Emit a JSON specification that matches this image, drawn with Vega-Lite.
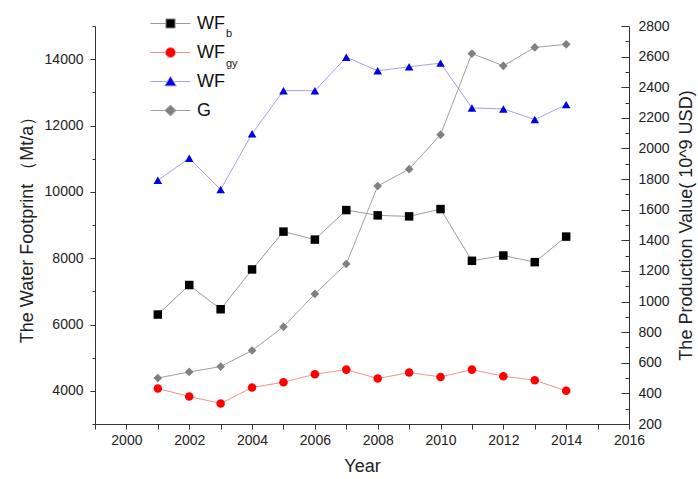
{
  "$schema": "https://vega.github.io/schema/vega-lite/v6.json",
  "width": 534,
  "height": 398,
  "autosize": {"type": "none"},
  "padding": {"left": 95, "top": 26, "right": 69, "bottom": 55},
  "background": "white",
  "datasets": {
    "left": [
      {"year": 2001, "series": "WFb", "value": 6300},
      {"year": 2002, "series": "WFb", "value": 7190},
      {"year": 2003, "series": "WFb", "value": 6460},
      {"year": 2004, "series": "WFb", "value": 7660},
      {"year": 2005, "series": "WFb", "value": 8800},
      {"year": 2006, "series": "WFb", "value": 8560},
      {"year": 2007, "series": "WFb", "value": 9450},
      {"year": 2008, "series": "WFb", "value": 9290},
      {"year": 2009, "series": "WFb", "value": 9260},
      {"year": 2010, "series": "WFb", "value": 9480},
      {"year": 2011, "series": "WFb", "value": 7920},
      {"year": 2012, "series": "WFb", "value": 8080},
      {"year": 2013, "series": "WFb", "value": 7880},
      {"year": 2014, "series": "WFb", "value": 8650},
      {"year": 2001, "series": "WFgy", "value": 4070},
      {"year": 2002, "series": "WFgy", "value": 3830},
      {"year": 2003, "series": "WFgy", "value": 3620},
      {"year": 2004, "series": "WFgy", "value": 4100},
      {"year": 2005, "series": "WFgy", "value": 4260},
      {"year": 2006, "series": "WFgy", "value": 4500},
      {"year": 2007, "series": "WFgy", "value": 4640},
      {"year": 2008, "series": "WFgy", "value": 4370},
      {"year": 2009, "series": "WFgy", "value": 4550},
      {"year": 2010, "series": "WFgy", "value": 4420},
      {"year": 2011, "series": "WFgy", "value": 4640},
      {"year": 2012, "series": "WFgy", "value": 4440},
      {"year": 2013, "series": "WFgy", "value": 4320},
      {"year": 2014, "series": "WFgy", "value": 4000},
      {"year": 2001, "series": "WF", "value": 10350},
      {"year": 2002, "series": "WF", "value": 11010},
      {"year": 2003, "series": "WF", "value": 10070},
      {"year": 2004, "series": "WF", "value": 11750},
      {"year": 2005, "series": "WF", "value": 13050},
      {"year": 2006, "series": "WF", "value": 13050},
      {"year": 2007, "series": "WF", "value": 14060},
      {"year": 2008, "series": "WF", "value": 13650},
      {"year": 2009, "series": "WF", "value": 13770},
      {"year": 2010, "series": "WF", "value": 13880},
      {"year": 2011, "series": "WF", "value": 12530},
      {"year": 2012, "series": "WF", "value": 12500},
      {"year": 2013, "series": "WF", "value": 12180},
      {"year": 2014, "series": "WF", "value": 12630}
    ],
    "right": [
      {"year": 2001, "series": "G", "value": 500},
      {"year": 2002, "series": "G", "value": 540},
      {"year": 2003, "series": "G", "value": 575},
      {"year": 2004, "series": "G", "value": 680},
      {"year": 2005, "series": "G", "value": 835},
      {"year": 2006, "series": "G", "value": 1050},
      {"year": 2007, "series": "G", "value": 1245},
      {"year": 2008, "series": "G", "value": 1755},
      {"year": 2009, "series": "G", "value": 1865},
      {"year": 2010, "series": "G", "value": 2090},
      {"year": 2011, "series": "G", "value": 2620},
      {"year": 2012, "series": "G", "value": 2540},
      {"year": 2013, "series": "G", "value": 2660},
      {"year": 2014, "series": "G", "value": 2680}
    ],
    "legendrows": [
      {"series": "WFb"},
      {"series": "WFgy"},
      {"series": "WF"},
      {"series": "G"}
    ],
    "subs": [
      {"sub": "b"},
      {"sub": "gy"}
    ]
  },
  "layer": [
    {
      "data": {"name": "left"},
      "encoding": {
        "x": {
          "field": "year", "type": "quantitative",
          "scale": {"domain": [1999, 2016], "nice": false, "zero": false},
          "axis": {
            "title": "Year",
            "values": [1999, 2000, 2001, 2002, 2003, 2004, 2005, 2006, 2007, 2008, 2009, 2010, 2011, 2012, 2013, 2014, 2015, 2016],
            "tickCount": 40,
            "format": "d",
            "labelExpr": "datum.value % 2 === 0 ? datum.label : ''",
            "labelOverlap": false,
            "labelFlush": false,
            "tickSize": 5,
            "labelPadding": 4,
            "titlePadding": 10
          }
        },
        "y": {
          "field": "value", "type": "quantitative",
          "scale": {"domain": [3000, 15000], "nice": false, "zero": false},
          "axis": {
            "title": "The Water Footprint （Mt/a）",
            "orient": "left",
            "values": [3000, 4000, 5000, 6000, 7000, 8000, 9000, 10000, 11000, 12000, 13000, 14000, 15000],
            "tickCount": 40,
            "format": "d",
            "labelExpr": "datum.value % 2000 === 0 ? datum.label : ''",
            "labelOverlap": false,
            "labelFlush": false,
            "tickSize": 5,
            "tickDash": {"condition": {"test": "datum.value % 2000 !== 0", "value": [3, 10]}, "value": [5, 0]},
            "labelPadding": 7,
            "titlePadding": 8
          }
        }
      },
      "layer": [
        {
          "mark": {"type": "line", "strokeWidth": 1},
          "encoding": {
            "stroke": {
              "field": "series", "type": "nominal",
              "scale": {"domain": ["WFb", "WFgy", "WF"], "range": ["#9a9a9a", "#f29090", "#a3a3e3"]},
              "legend": null
            }
          }
        },
        {
          "mark": {"type": "point", "filled": true, "opacity": 1},
          "encoding": {
            "color": {
              "field": "series", "type": "nominal",
              "scale": {"domain": ["WFb", "WFgy", "WF", "G"], "range": ["#000000", "#ff0000", "#0000e0", "#808080"]},
              "legend": null
            },
            "shape": {
              "field": "series", "type": "nominal",
              "scale": {"domain": ["WFb", "WFgy", "WF"], "range": ["square", "circle", "triangle-up"]},
              "legend": null
            },
            "size": {
              "field": "series", "type": "ordinal",
              "scale": {"domain": ["WFb", "WFgy", "WF", "G"], "range": [72, 75, 100, 121]},
              "legend": null
            }
          }
        },
        {
          "data": {"name": "subs"},
          "mark": {"type": "point", "opacity": 0},
          "encoding": {
            "x": {"value": 0},
            "y": {"value": 0},
            "strokeDash": {
              "field": "sub", "type": "nominal",
              "scale": {"domain": ["b", "gy"], "range": [[1, 0], [1, 0]]},
              "legend": {
                "title": null,
                "orient": "none",
                "legendX": 110,
                "legendY": -3,
                "padding": 0,
                "labelFont": "Liberation Sans",
                "labelFontSize": 11,
                "labelColor": "#111111",
                "symbolSize": 400,
                "symbolStrokeWidth": 1,
                "symbolOpacity": 0,
                "rowPadding": 9,
                "labelOffset": 0
              }
            }
          }
        }
      ]
    },
    {
      "data": {"name": "right"},
      "encoding": {
        "x": {"field": "year", "type": "quantitative"},
        "y": {
          "field": "value", "type": "quantitative",
          "scale": {"domain": [200, 2800], "nice": false, "zero": false},
          "axis": {
            "title": "The Production Value( 10^9 USD)",
            "orient": "right",
            "values": [200, 300, 400, 500, 600, 700, 800, 900, 1000, 1100, 1200, 1300, 1400, 1500, 1600, 1700, 1800, 1900, 2000, 2100, 2200, 2300, 2400, 2500, 2600, 2700, 2800],
            "tickCount": 40,
            "format": "d",
            "labelExpr": "datum.value % 200 === 0 ? datum.label : ''",
            "labelOverlap": false,
            "labelFlush": false,
            "tickSize": -8,
            "tickDash": {"condition": {"test": "datum.value % 200 !== 0", "value": [4, 20]}, "value": [8, 0]},
            "labelPadding": 17,
            "titleAngle": 270,
            "titleBaseline": "top",
            "titlePadding": 8
          }
        }
      },
      "layer": [
        {
          "mark": {"type": "line", "strokeWidth": 1},
          "encoding": {
            "stroke": {
              "field": "series", "type": "nominal",
              "scale": {"domain": ["G"], "range": ["#a0a0a0"]},
              "legend": null
            }
          }
        },
        {
          "mark": {"type": "point", "filled": true, "opacity": 1},
          "encoding": {
            "color": {"field": "series", "type": "nominal", "legend": null},
            "shape": {
              "field": "series", "type": "nominal",
              "scale": {"domain": ["G"], "range": ["diamond"]},
              "legend": null
            },
            "size": {"field": "series", "type": "ordinal", "legend": null}
          }
        }
      ]
    },
    {
      "data": {"name": "legendrows"},
      "mark": {"type": "point", "filled": true, "opacity": 0},
      "encoding": {
        "x": {"value": 0},
        "y": {"value": 0},
        "fill": {
          "field": "series", "type": "nominal",
          "scale": {"domain": ["WFb", "WFgy", "WF", "G"], "range": ["#000000", "#ff0000", "#0000e0", "#808080"]},
          "legend": {
            "title": null, "orient": "none", "legendX": 65, "legendY": -13, "padding": 0,
            "labelFont": "Liberation Sans", "labelFontSize": 18, "labelColor": "#111111",
            "symbolSize": 400, "symbolStrokeWidth": 1, "symbolOpacity": 1,
            "rowPadding": 9, "labelOffset": 16,
            "labelExpr": "datum.value === 'WFb' || datum.value === 'WFgy' ? 'WF' : datum.value"
          }
        },
        "stroke": {
          "field": "series", "type": "nominal",
          "scale": {"domain": ["WFb", "WFgy", "WF", "G"], "range": ["#9a9a9a", "#f29090", "#a3a3e3", "#a0a0a0"]},
          "legend": {
            "title": null, "orient": "none", "legendX": 65, "legendY": -13, "padding": 0,
            "labelFont": "Liberation Sans", "labelFontSize": 18, "labelColor": "#111111",
            "symbolSize": 400, "symbolStrokeWidth": 1, "symbolOpacity": 1,
            "rowPadding": 9, "labelOffset": 16,
            "labelExpr": "datum.value === 'WFb' || datum.value === 'WFgy' ? 'WF' : datum.value"
          }
        },
        "shape": {
          "field": "series", "type": "nominal",
          "scale": {
            "domain": ["WFb", "WFgy", "WF", "G"],
            "range": [
              "M-2,0H-0.46M0.46,0H2M-0.46,-0.46H0.46V0.46H-0.46Z",
              "M-2,0H-0.5M0.5,0H2M-0.5,0A0.5,0.5,0,1,0,0.5,0A0.5,0.5,0,1,0,-0.5,0Z",
              "M-2,0H-0.38M0.38,0H2M0,-0.52L0.58,0.44H-0.58Z",
              "M-2,0H-0.55M0.55,0H2M0,-0.55L0.55,0L0,0.55L-0.55,0Z"
            ]
          },
          "legend": {
            "title": null, "orient": "none", "legendX": 65, "legendY": -13, "padding": 0,
            "labelFont": "Liberation Sans", "labelFontSize": 18, "labelColor": "#111111",
            "symbolSize": 400, "symbolStrokeWidth": 1, "symbolOpacity": 1,
            "rowPadding": 9, "labelOffset": 16,
            "labelExpr": "datum.value === 'WFb' || datum.value === 'WFgy' ? 'WF' : datum.value"
          }
        }
      }
    }
  ],
  "resolve": {"scale": {"y": "independent", "shape": "independent", "stroke": "independent", "fill": "independent"}},
  "config": {
    "view": {"stroke": null},
    "font": "Liberation Sans",
    "axis": {
      "grid": false,
      "domainColor": "#333333",
      "domainWidth": 1,
      "tickColor": "#333333",
      "tickWidth": 1,
      "labelColor": "#222222",
      "titleColor": "#222222",
      "labelFont": "Liberation Sans",
      "titleFont": "Liberation Sans",
      "labelFontSize": 14,
      "titleFontSize": 18,
      "titleFontWeight": "normal"
    }
  }
}
